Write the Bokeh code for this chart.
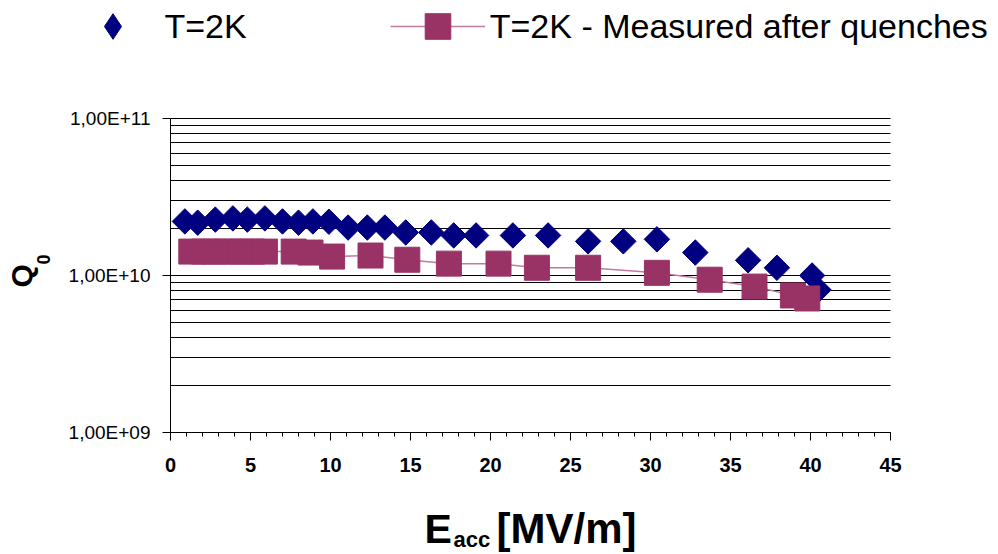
import math
from bokeh.plotting import figure
from bokeh.models import (FixedTicker, SingleIntervalTicker, Legend, LegendItem,
                          Label, CustomJSTickFormatter, Range1d)
from bokeh.embed import file_html
from bokeh.resources import INLINE

# ---- data ----
e_t2k = [0.9, 1.7, 2.8, 3.9, 4.8, 5.9, 7.0, 8.0, 8.9, 9.9, 11.1, 12.3, 13.4, 14.7,
         16.3, 17.7, 19.1, 21.4, 23.6, 26.1, 28.3, 30.4, 32.8, 36.1, 37.9, 40.1, 40.5]
q_t2k = [2.21e10, 2.17e10, 2.27e10, 2.31e10, 2.27e10, 2.31e10, 2.21e10, 2.17e10,
         2.21e10, 2.20e10, 2.02e10, 2.02e10, 2.02e10, 1.88e10, 1.88e10, 1.80e10,
         1.80e10, 1.80e10, 1.80e10, 1.65e10, 1.65e10, 1.70e10, 1.40e10, 1.25e10,
         1.12e10, 1.00e10, 8.1e9]

e_quench = [1.3, 2.1, 2.8, 3.6, 4.4, 5.1, 5.9, 7.7, 8.75, 10.1, 12.5, 14.8, 17.4,
            20.5, 22.9, 26.1, 30.4, 33.7, 36.5, 38.9, 39.8]
q_quench = [1.42e10, 1.42e10, 1.42e10, 1.42e10, 1.42e10, 1.42e10, 1.42e10, 1.42e10,
            1.40e10, 1.32e10, 1.34e10, 1.26e10, 1.19e10, 1.19e10, 1.12e10, 1.12e10,
            1.04e10, 9.4e9, 8.5e9, 7.46e9, 7.14e9]

series_names = ["T=2K", "T=2K - Measured after quenches"]
x_min, x_max = 0, 45
y_tick_values = [1e9, 1e10, 1e11]
y_tick_labels = ["1,00E+09", "1,00E+10", "1,00E+11"]
y_minor_values = [2e9, 3e9, 4e9, 5e9, 6e9, 7e9, 8e9, 9e9,
                  2e10, 3e10, 4e10, 5e10, 6e10, 7e10, 8e10, 9e10]
x_title_parts = ["E", "acc", "[MV/m]"]
y_title_parts = ["Q", "0"]

# ---- layout (pixels) ----
W, H = 998, 554
PX_LEFT, PX_RIGHT = 170, 890      # canvas x of x_min / x_max
PX_TOP, PX_BOTTOM = 118, 432      # canvas y of 1e11 / 1e9
FONT = "Liberation Sans"
NAVY = "#000080"
PLUM = "#993366"
PINK = "#c27ba0"

# The frame covers the whole canvas; the ranges are widened so that the
# plotting area lands where it is in the reference.
ppu = (PX_RIGHT - PX_LEFT) / (x_max - x_min)
ppd = (PX_BOTTOM - PX_TOP) / 2.0
xr = Range1d(x_min - PX_LEFT / ppu, x_max + (W - PX_RIGHT) / ppu)
yr = Range1d(1e9 / 10 ** ((H - PX_BOTTOM) / ppd), 1e11 * 10 ** (PX_TOP / ppd))

p = figure(width=W, height=H, x_range=xr, y_range=yr, y_axis_type="log",
           output_backend="svg", toolbar_location=None, min_border=0)
p.min_border_left = p.min_border_right = p.min_border_top = p.min_border_bottom = 0
p.outline_line_color = None
p.background_fill_color = "white"
p.border_fill_color = "white"

# grid
p.xgrid.visible = False
p.ygrid.grid_line_color = "black"
p.ygrid.grid_line_width = 1
p.ygrid.minor_grid_line_color = "black"
p.ygrid.minor_grid_line_width = 1
p.ygrid.cross_bounds = (x_min, x_max)

# y axis
p.yaxis.fixed_location = x_min
p.yaxis.bounds = (1e9, 1e11)
p.yaxis.ticker = FixedTicker(ticks=y_tick_values, minor_ticks=y_minor_values)
p.yaxis.formatter = CustomJSTickFormatter(
    args=dict(vals=y_tick_values, labs=y_tick_labels),
    code="""
    for (let i = 0; i < vals.length; i++) {
        if (Math.abs(Math.log10(vals[i]) - Math.log10(tick)) < 1e-6) return labs[i];
    }
    return "";
    """)
p.yaxis.major_tick_out = 8
p.yaxis.major_tick_in = 0
p.yaxis.minor_tick_out = 0
p.yaxis.minor_tick_in = 0
p.yaxis.major_label_standoff = 12
p.yaxis.major_label_text_font = FONT
p.yaxis.major_label_text_font_size = "19px"
p.yaxis.major_label_text_color = "black"
p.yaxis.axis_line_color = "black"

# x axis
p.xaxis.fixed_location = 1e9
p.xaxis.bounds = (x_min, x_max)
p.xaxis.ticker = SingleIntervalTicker(interval=5, num_minor_ticks=5)
p.xaxis.major_tick_out = 8
p.xaxis.major_tick_in = 0
p.xaxis.minor_tick_out = 4
p.xaxis.minor_tick_in = 0
p.xaxis.major_label_standoff = 17
p.xaxis.major_label_text_font = FONT
p.xaxis.major_label_text_font_size = "20px"
p.xaxis.major_label_text_font_style = "bold"
p.xaxis.major_label_text_color = "black"
p.xaxis.axis_line_color = "black"

# data
r_d = p.scatter(e_t2k, q_t2k, marker="square", angle=math.pi / 4, size=18,
                fill_color=NAVY, line_color=NAVY)
r_l = p.line(e_quench, q_quench, line_color=PINK, line_width=1.5)
r_s = p.scatter(e_quench, q_quench, marker="square", size=25,
                fill_color=PLUM, line_color=PLUM)
# legend proxy for the diamond symbol (not drawn in the plot area)
r_dleg = p.scatter(x=[float("nan")], y=[float("nan")], marker="diamond",
                   fill_color=NAVY, line_color=NAVY)

GH = 64
legend = Legend(items=[LegendItem(label=series_names[0], renderers=[r_dleg]),
                       LegendItem(label=series_names[1], renderers=[r_l, r_s])],
                orientation="horizontal", location=(64.5, H - 26 - GH / 2),
                glyph_width=95, glyph_height=GH, label_standoff=5, spacing=143,
                padding=0, margin=0, border_line_color=None,
                background_fill_alpha=0, label_text_font=FONT,
                label_text_font_size="34px", label_text_color="black")
p.add_layout(legend)

# axis titles (canvas coordinates)
def lab(x, y, text, size, angle=0.0):
    p.add_layout(Label(x=x, y=y, x_units="canvas", y_units="canvas", text=text,
                       angle=angle, text_font=FONT, text_font_size=size,
                       text_font_style="bold", text_color="black",
                       text_align="left", text_baseline="alphabetic"))

lab(424, 528, x_title_parts[0], "41px")
lab(453, 539, x_title_parts[1], "22px")
lab(496, 528, x_title_parts[2], "42px")
lab(21, 287, y_title_parts[0], "30px", math.pi / 2)
lab(43, 264, y_title_parts[1], "18px", math.pi / 2)

open("out.html", "w").write(file_html(p, INLINE))
